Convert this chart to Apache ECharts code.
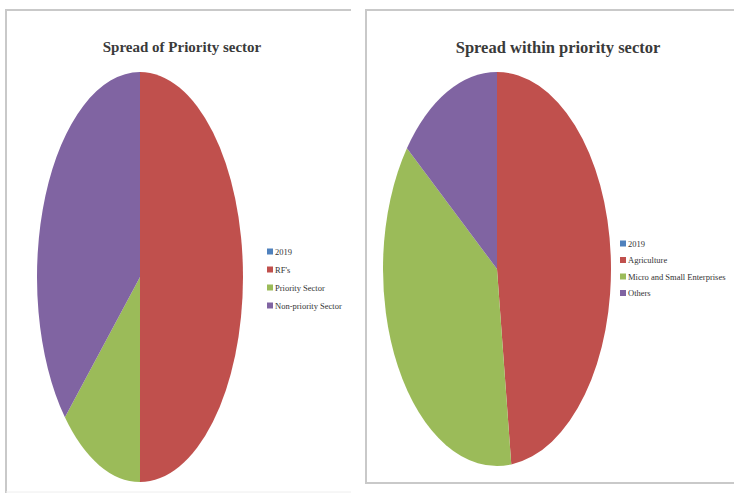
<!DOCTYPE html>
<html>
<head>
<meta charset="utf-8">
<script src="https://cdn.jsdelivr.net/npm/echarts@6/dist/echarts.min.js"></script>
<style>
  html, body { margin: 0; padding: 0; background: #fff; }
  #stage { position: relative; width: 734px; height: 494px; overflow: hidden; }
  .pie { position: absolute; transform-origin: 50% 50%; }
  #overlay { position: absolute; left: 0; top: 0; width: 734px; height: 494px; }
</style>
</head>
<body>
<div id="stage">
  <div id="pieLeft" class="pie"></div>
  <div id="pieRight" class="pie"></div>
  <div id="overlay"></div>
</div>
<script>
// Chart data
const leftTitle = 'Spread of Priority sector';
const leftNames = ['2019', "RF's", 'Priority Sector', 'Non-priority Sector'];
const leftValues = [0, 50, 13, 37];

const rightTitle = 'Spread within priority sector';
const rightNames = ['2019', 'Agriculture', 'Micro and Small Enterprises', 'Others'];
const rightValues = [0, 48, 37.5, 14.5];

const palette = ['#4F81BD', '#C0504D', '#9BBB59', '#8064A2'];

// Each slice carries its own colour so both pies share the same order of hues
function toData(names, values) {
  return names.map((n, i) => ({ name: n, value: values[i], itemStyle: { color: palette[i] } }));
}

// Elliptical pies: a round pie rendered as SVG and stretched vertically
function drawPie(id, names, values, cx, cy, rx, ry) {
  const el = document.getElementById(id);
  const size = 2 * rx + 10;
  el.style.width = size + 'px';
  el.style.height = size + 'px';
  el.style.left = (cx - size / 2) + 'px';
  el.style.top = (cy - size / 2) + 'px';
  el.style.transform = 'scale(1,' + (ry / rx) + ')';
  const chart = echarts.init(el, null, { renderer: 'svg' });
  chart.setOption({
    animation: false,
    series: [{
      type: 'pie',
      center: ['50%', '50%'],
      radius: rx,
      startAngle: 90,
      clockwise: true,
      label: { show: false },
      labelLine: { show: false },
      emphasis: { disabled: true },
      itemStyle: { borderWidth: 0 },
      data: toData(names, values)
    }]
  });
}

drawPie('pieLeft', leftNames, leftValues, 140, 277, 103, 205);
drawPie('pieRight', rightNames, rightValues, 497, 269, 114, 197);

// Titles, legends and panel frames
const overlay = echarts.init(document.getElementById('overlay'), null, { renderer: 'svg' });
const legendText = { fontFamily: 'Liberation Serif', fontSize: 8.5, color: '#333', padding: [0, 0, 0, -3] };
const titleText = { fontFamily: 'Liberation Serif', fontSize: 16, fontWeight: 'bold', color: '#3a3a3a' };
const hiddenPie = (names, values) => ({
  type: 'pie',
  center: [-500, -500],
  radius: 1,
  silent: true,
  label: { show: false },
  data: toData(names, values)
});

overlay.setOption({
  animation: false,
  title: [
    { text: leftTitle, left: 177, top: 34, textAlign: 'center',
      textStyle: Object.assign({}, titleText, { fontSize: 15 }) },
    { text: rightTitle, left: 553, top: 34, textAlign: 'center',
      textStyle: Object.assign({}, titleText, { fontSize: 16.5 }) }
  ],
  legend: [
    {
      seriesIndex: 0, orient: 'vertical', left: 262, top: 242,
      itemWidth: 6, itemHeight: 6, itemGap: 9, icon: 'rect',
      data: leftNames, textStyle: legendText, selectedMode: false
    },
    {
      seriesIndex: 1, orient: 'vertical', left: 615, top: 234,
      itemWidth: 6, itemHeight: 6, itemGap: 7.5, icon: 'rect',
      data: rightNames, textStyle: legendText, selectedMode: false
    }
  ],
  graphic: [
    { type: 'polyline', shape: { points: [[6, 493], [6, 10], [351, 10]] },
      style: { stroke: '#c9c9c9', lineWidth: 2, fill: null } },
    { type: 'line', shape: { x1: 6, y1: 492, x2: 351, y2: 492 },
      style: { stroke: '#eeeeee', lineWidth: 1 } },
    { type: 'polyline', shape: { points: [[734, 10], [366, 10], [366, 483], [734, 483]] },
      style: { stroke: '#c9c9c9', lineWidth: 2, fill: null } }
  ],
  series: [
    hiddenPie(leftNames, leftValues),
    hiddenPie(rightNames, rightValues)
  ]
});
</script>
</body>
</html>
